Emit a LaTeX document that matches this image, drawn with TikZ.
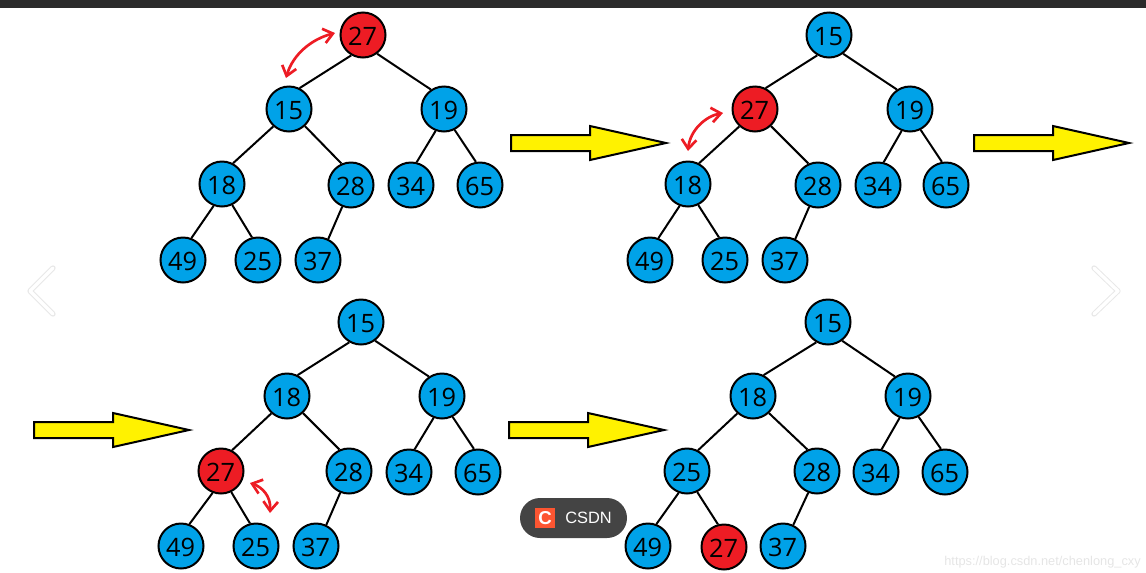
\documentclass[tikz,border=0pt]{standalone}
\usepackage{fontspec}
\setmainfont{Open Sans}
\newfontfamily\badgefont{Liberation Sans}
\usetikzlibrary{arrows.meta}
\definecolor{heapblue}{HTML}{00A2E8}
\definecolor{heapred}{HTML}{ED1C24}
\definecolor{arrowyellow}{HTML}{FFF200}
\definecolor{barblack}{HTML}{2B2B2B}
\definecolor{badgegray}{HTML}{444444}
\definecolor{badgeorange}{HTML}{FC5531}
\begin{document}
\begin{tikzpicture}[
		x=0.75pt, y=-0.75pt,
		heapnode/.style={draw=black, fill=heapblue, circle, line width=1.5pt, minimum size=33.75pt, inner sep=0pt, text height=15.5pt, text depth=0pt, font=\fontsize{19}{19}\selectfont, execute at begin node=\hspace{-0.75pt}},
		rednode/.style={heapnode, fill=heapred},
		edge/.style={draw=black, line width=1.5pt},
		swap/.style={draw=heapred, line width=2pt, {Straight Barb[length=7pt,width=11pt]}-{Straight Barb[length=7pt,width=11pt]}},
		chevronglow/.style={draw=black!9, line width=4pt, line cap=round, line join=round},
		chevron/.style={draw=white, line width=2.5pt, line cap=round, line join=round},
		bigarrow/.pic={\draw[black, line width=1.5pt, fill=arrowyellow, line join=miter] (0,-8) -- (79,-8) -- (79,-17) -- (155,0) -- (79,17) -- (79,8) -- (0,8) -- cycle;},
	]
	\useasboundingbox (0,0) rectangle (1146,572);
	\fill[barblack] (0,0) rectangle (1146,8);

	% Tree 1
	\node[rednode] (A1) at (363,35) {27};
	\node[heapnode] (A2) at (289,109) {15};
	\node[heapnode] (A3) at (444,109) {19};
	\node[heapnode] (A4) at (222,184) {18};
	\node[heapnode] (A5) at (351,185) {28};
	\node[heapnode] (A6) at (411,185) {34};
	\node[heapnode] (A7) at (480,185) {65};
	\node[heapnode] (A8) at (183,260) {49};
	\node[heapnode] (A9) at (258,260) {25};
	\node[heapnode] (A10) at (318,260) {37};

	% Tree 2
	\node[heapnode] (B1) at (829,35) {15};
	\node[rednode] (B2) at (755,109) {27};
	\node[heapnode] (B3) at (910,109) {19};
	\node[heapnode] (B4) at (688,184) {18};
	\node[heapnode] (B5) at (818,185) {28};
	\node[heapnode] (B6) at (878,185) {34};
	\node[heapnode] (B7) at (946,185) {65};
	\node[heapnode] (B8) at (650,260) {49};
	\node[heapnode] (B9) at (725,260) {25};
	\node[heapnode] (B10) at (785,260) {37};

	% Tree 3
	\node[heapnode] (C1) at (361,322) {15};
	\node[heapnode] (C2) at (287,396) {18};
	\node[heapnode] (C3) at (442,396) {19};
	\node[rednode] (C4) at (221,471) {27};
	\node[heapnode] (C5) at (349,471) {28};
	\node[heapnode] (C6) at (409,472) {34};
	\node[heapnode] (C7) at (478,472) {65};
	\node[heapnode] (C8) at (181,546) {49};
	\node[heapnode] (C9) at (256,546) {25};
	\node[heapnode] (C10) at (316,546) {37};

	% Tree 4
	\node[heapnode] (D1) at (828,322) {15};
	\node[heapnode] (D2) at (753,396) {18};
	\node[heapnode] (D3) at (908,396) {19};
	\node[heapnode] (D4) at (687,471) {25};
	\node[heapnode] (D5) at (817,471) {28};
	\node[heapnode] (D6) at (876,472) {34};
	\node[heapnode] (D7) at (945,472) {65};
	\node[heapnode] (D8) at (648,546) {49};
	\node[rednode] (D9) at (724,547) {27};
	\node[heapnode] (D10) at (783,546) {37};

	% Connections of Tree 1
	\draw[edge] (A1.240) -- (A2.63);
	\draw[edge] (A1.307) -- (A3.124);
	\draw[edge] (A2.228) -- (A4.62);
	\draw[edge] (A2.313) -- (A5.114);
	\draw[edge] (A3.249) -- (A6.76);
	\draw[edge] (A3.297) -- (A7.100);
	\draw[edge] (A4.249) -- (A8.69);
	\draw[edge] (A4.296) -- (A9.105);
	\draw[edge] (A5.248) -- (A10.64);

	% Connections of Tree 2
	\draw[edge] (B1.240) -- (B2.63);
	\draw[edge] (B1.307) -- (B3.124);
	\draw[edge] (B2.228) -- (B4.62);
	\draw[edge] (B2.313) -- (B5.114);
	\draw[edge] (B3.249) -- (B6.76);
	\draw[edge] (B3.297) -- (B7.100);
	\draw[edge] (B4.249) -- (B8.69);
	\draw[edge] (B4.296) -- (B9.105);
	\draw[edge] (B5.248) -- (B10.64);

	% Connections of Tree 3
	\draw[edge] (C1.240) -- (C2.63);
	\draw[edge] (C1.307) -- (C3.124);
	\draw[edge] (C2.228) -- (C4.62);
	\draw[edge] (C2.313) -- (C5.114);
	\draw[edge] (C3.249) -- (C6.76);
	\draw[edge] (C3.297) -- (C7.100);
	\draw[edge] (C4.249) -- (C8.69);
	\draw[edge] (C4.296) -- (C9.105);
	\draw[edge] (C5.248) -- (C10.64);

	% Connections of Tree 4
	\draw[edge] (D1.240) -- (D2.63);
	\draw[edge] (D1.307) -- (D3.124);
	\draw[edge] (D2.228) -- (D4.62);
	\draw[edge] (D2.313) -- (D5.114);
	\draw[edge] (D3.249) -- (D6.76);
	\draw[edge] (D3.297) -- (D7.100);
	\draw[edge] (D4.249) -- (D8.69);
	\draw[edge] (D4.296) -- (D9.105);
	\draw[edge] (D5.248) -- (D10.64);

	% Swap marks
	\coordinate (S1a) at (335,33);
	\coordinate (S1b) at (286,78);
	\coordinate (S2a) at (723,113);
	\coordinate (S2b) at (688,151);
	\coordinate (S3a) at (250,483);
	\coordinate (S3b) at (270,513);
	\draw[swap] (S1a) .. controls (312,39) and (293,54) .. (S1b);
	\draw[swap] (S2a) .. controls (706,116) and (690,130) .. (S2b);
	\draw[swap] (S3a) .. controls (262,487) and (271,496) .. (S3b);

	% Yellow arrows between the trees
	\pic at (511,143) {bigarrow};
	\pic at (974,143) {bigarrow};
	\pic at (34,430) {bigarrow};
	\pic at (509,430) {bigarrow};

	% Viewer overlay
	\draw[chevronglow] (53,268) -- (30,291) -- (53,314);
	\draw[chevron] (53,268) -- (30,291) -- (53,314);
	\draw[chevronglow] (1094,268) -- (1118,291) -- (1094,314);
	\draw[chevron] (1094,268) -- (1118,291) -- (1094,314);
	\node[fill=badgegray, rounded corners=15pt, minimum width=80.25pt, minimum height=30pt, inner sep=0pt] (badge) at (573.5,518) {};
	\node[fill=badgeorange, text=white, minimum size=15pt, inner sep=0pt, font=\badgefont\bfseries\fontsize{14}{14}\selectfont] (logo) at (545,518) {C};
	\node[text=white, inner sep=0pt, anchor=west, font=\badgefont\fontsize{12.3}{12}\selectfont] (brand) at (565,518) {CSDN};
	\node[text=black!10, inner sep=0pt, anchor=east, font=\badgefont\fontsize{9.6}{10}\selectfont] (mark) at (1141,562) {https://blog.csdn.net/chenlong\_cxy};
\end{tikzpicture}
\end{document}
